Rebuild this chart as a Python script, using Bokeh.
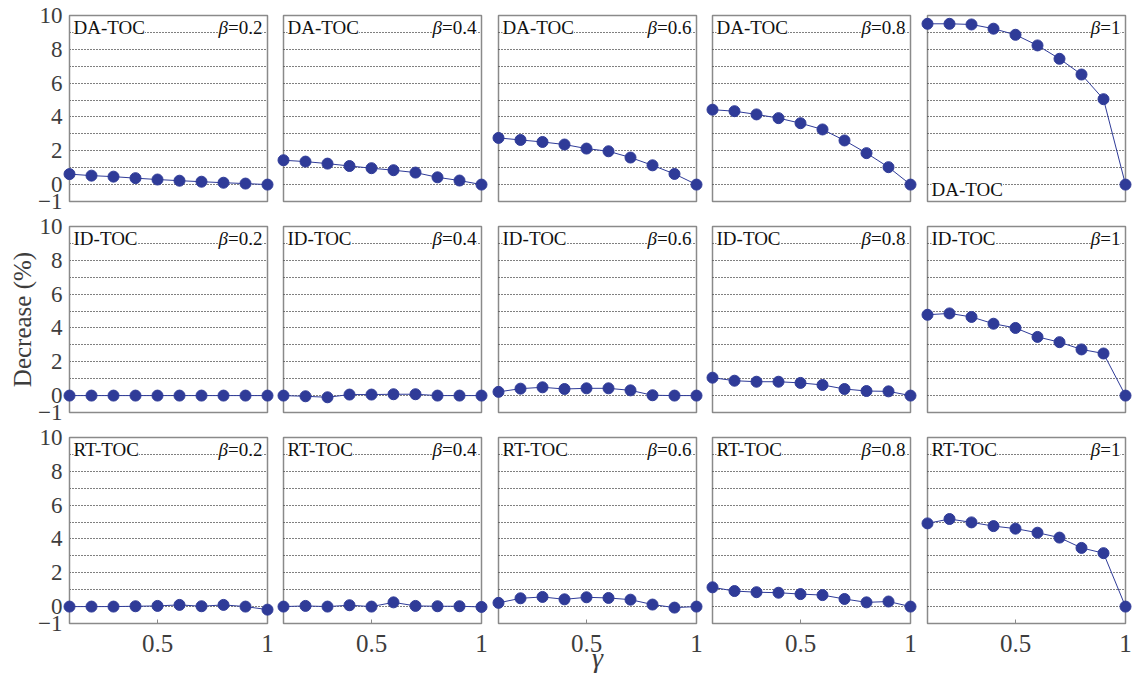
from bokeh.plotting import figure
from bokeh.layouts import column, row
from bokeh.models import FixedTicker, Label, Range1d, Grid
from bokeh.embed import file_html
from bokeh.resources import INLINE

gamma = [0.1, 0.2, 0.3, 0.4, 0.5, 0.6, 0.7, 0.8, 0.9, 1.0]
methods = ["DA-TOC", "ID-TOC", "RT-TOC"]
betas = ["0.2", "0.4", "0.6", "0.8", "1"]
y_ticks = [-1, 0, 2, 4, 6, 8, 10]
x_ticks = [0.5, 1.0]

da_b02 = [0.62, 0.53, 0.47, 0.38, 0.30, 0.23, 0.17, 0.11, 0.06, 0.0]
da_b04 = [1.44, 1.36, 1.24, 1.10, 0.97, 0.85, 0.71, 0.43, 0.24, 0.0]
da_b06 = [2.76, 2.64, 2.52, 2.37, 2.13, 1.97, 1.60, 1.14, 0.63, 0.0]
da_b08 = [4.43, 4.34, 4.15, 3.93, 3.63, 3.26, 2.61, 1.86, 1.03, 0.0]
da_b10 = [9.51, 9.51, 9.47, 9.22, 8.86, 8.23, 7.44, 6.51, 5.05, 0.0]

id_b02 = [0.0, 0.0, 0.0, 0.0, 0.0, 0.0, 0.0, 0.0, 0.0, 0.0]
id_b04 = [0.0, -0.04, -0.10, 0.06, 0.06, 0.08, 0.08, 0.0, 0.0, 0.0]
id_b06 = [0.22, 0.41, 0.49, 0.39, 0.43, 0.43, 0.31, 0.02, 0.0, 0.0]
id_b08 = [1.06, 0.88, 0.82, 0.82, 0.75, 0.63, 0.39, 0.27, 0.25, 0.0]
id_b10 = [4.78, 4.86, 4.65, 4.25, 4.00, 3.47, 3.16, 2.73, 2.49, 0.0]

rt_b02 = [0.0, 0.0, 0.0, 0.02, 0.04, 0.10, 0.02, 0.10, 0.0, -0.18]
rt_b04 = [0.0, 0.04, 0.0, 0.08, 0.0, 0.25, 0.04, 0.02, 0.02, -0.02]
rt_b06 = [0.22, 0.49, 0.57, 0.43, 0.55, 0.51, 0.41, 0.12, -0.06, 0.0]
rt_b08 = [1.14, 0.92, 0.85, 0.82, 0.74, 0.68, 0.45, 0.25, 0.30, 0.0]
rt_b10 = [4.92, 5.18, 4.98, 4.76, 4.61, 4.37, 4.08, 3.47, 3.16, 0.0]

series = [
    [da_b02, da_b04, da_b06, da_b08, da_b10],
    [id_b02, id_b04, id_b06, id_b08, id_b10],
    [rt_b02, rt_b04, rt_b06, rt_b08, rt_b10],
]

FONT = "Liberation Serif"
GRAY = "#3d3d3d"
FRAME = "#8a8a8a"
BLUE = "#2f3b98"

left_b = [69, 8, 8, 8, 8]
right_b = [8, 9, 8, 9, 9]
top_b = [15, 12, 12]
bot_b = [13, 13, 57]
FW, FH = 198, 186

def char_w(s, size):
    w = {"=": 0.564, ".": 0.25}
    return sum(w.get(c, 0.5) for c in s) * size

rows = []
for i, m in enumerate(methods):
    figs = []
    for j, b in enumerate(betas):
        p = figure(width=left_b[j] + FW + right_b[j], height=top_b[i] + FH + bot_b[i],
                   x_range=Range1d(0.1, 1.0), y_range=Range1d(-1, 10),
                   output_backend="svg", toolbar_location=None,
                   x_axis_location="below" if i == 2 else None,
                   y_axis_location="left" if j == 0 else None,
                   min_border_left=left_b[j], min_border_right=right_b[j],
                   min_border_top=top_b[i], min_border_bottom=bot_b[i])
        for g in p.grid:
            g.visible = False
        p.add_layout(Grid(dimension=1, ticker=FixedTicker(ticks=list(range(0, 10))),
                          grid_line_color="#000000", grid_line_dash="1 2",
                          grid_line_width=1, grid_line_alpha=1.0))
        p.outline_line_color = FRAME
        p.outline_line_width = 1.5
        p.background_fill_color = "white"
        p.border_fill_color = "white"

        if j == 0:
            ax = p.yaxis[0]
            ax.ticker = FixedTicker(ticks=y_ticks)
            ax.major_tick_out = 0
            ax.major_tick_in = 0
            ax.minor_tick_line_color = None
            ax.axis_line_color = FRAME
            ax.major_label_standoff = 7
            ax.major_label_text_font = FONT
            ax.major_label_text_font_size = "23px"
            ax.major_label_text_color = GRAY
            if i == 1:
                ax.axis_label = "Decrease (%)"
                ax.axis_label_text_font = FONT
                ax.axis_label_text_font_size = "25px"
                ax.axis_label_text_font_style = "normal"
                ax.axis_label_text_color = GRAY
                ax.axis_label_standoff = -1
        if i == 2:
            ax = p.xaxis[0]
            ax.ticker = FixedTicker(ticks=x_ticks)
            ax.major_label_overrides = {0.5: "0.5", 1: "1"}
            ax.major_tick_out = 0
            ax.major_tick_in = 4
            ax.major_tick_line_color = FRAME
            ax.minor_tick_line_color = None
            ax.axis_line_color = FRAME
            ax.major_label_standoff = 11
            ax.major_label_text_font = FONT
            ax.major_label_text_font_size = "25px"
            ax.major_label_text_color = GRAY
            if j == 2:
                ax.axis_label = "γ"
                ax.axis_label_text_font = FONT
                ax.axis_label_text_font_size = "28px"
                ax.axis_label_text_font_style = "italic"
                ax.axis_label_text_color = GRAY
                ax.axis_label_standoff = -13

        ys = series[i][j]
        r1 = p.line(gamma, ys, line_color=BLUE, line_width=1)
        r2 = p.scatter(gamma, ys, size=11, fill_color=BLUE, line_color=BLUE)
        r1.level = "overlay"
        r2.level = "overlay"

        lab_kw = dict(text_font=FONT, text_font_size="19px", text_color="#111111",
                      text_baseline="alphabetic", background_fill_color="white")
        if i == 0 and j == 4:
            p.add_layout(Label(x=0.1, y=-1, x_offset=4, y_offset=12, text=m,
                               text_align="left", **lab_kw))
        else:
            p.add_layout(Label(x=0.1, y=10, x_offset=4, y_offset=-12, text=m,
                               text_align="left", **lab_kw))
        rest = "=" + b
        p.add_layout(Label(x=1.0, y=10, x_offset=-5, y_offset=-12, text=rest,
                           text_align="right", **lab_kw))
        p.add_layout(Label(x=1.0, y=10, x_offset=-5 - char_w(rest, 19), y_offset=-12, text="β",
                           text_font_style="italic", text_align="right", **lab_kw))
        figs.append(p)
    rows.append(row(*figs))

layout = column(*rows)
open("out.html", "w").write(file_html(layout, INLINE))
